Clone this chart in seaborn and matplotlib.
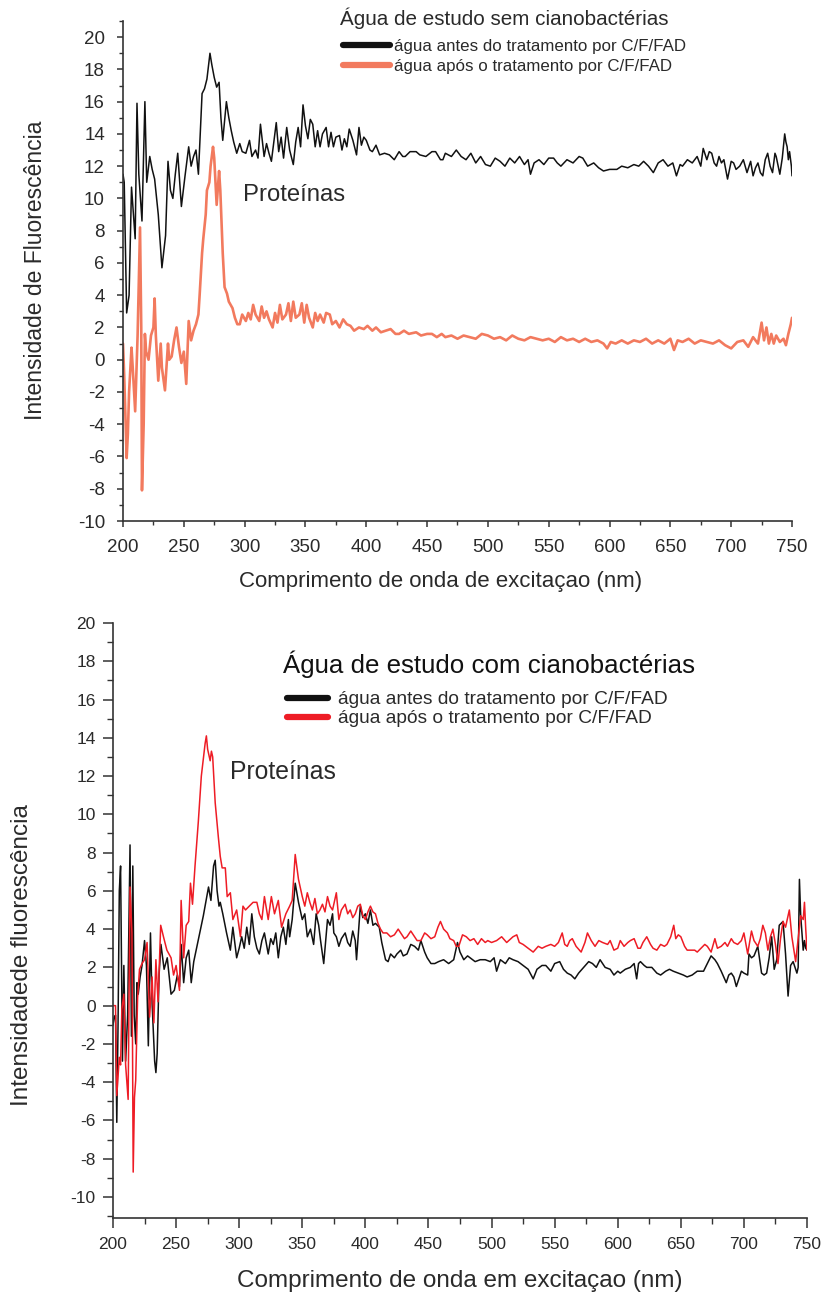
import numpy as np
import pandas as pd
import matplotlib
matplotlib.use("Agg")
import matplotlib.pyplot as plt
from matplotlib.ticker import MultipleLocator
from matplotlib.lines import Line2D
import seaborn as sns

# ---------------- data: top panel (água sem cianobactérias) ----------------
top_before_x = [200, 201, 203, 205, 207, 210, 211.5, 213, 215.6, 218, 219.5, 222, 224, 226, 229, 232, 235, 237, 239, 241,
                243, 245, 248, 251, 254, 256, 258, 260, 262, 265, 267, 269, 271.5, 273, 275, 277, 279, 280.5, 282, 285,
                287, 289, 291, 293.5, 296, 298, 301, 304, 306, 309, 311, 313, 316, 318, 320, 322, 324, 326, 328, 330,
                332, 334.6, 337, 340, 342, 344, 346, 348, 350, 352, 354, 356, 358, 360, 362, 364, 367, 369, 371, 373,
                375, 378, 380, 382, 384, 386, 389, 392, 394, 396, 398, 400, 403, 405, 408, 411, 415, 419, 423, 427,
                430, 432, 436, 441, 444, 449, 454, 457, 461, 463, 465, 470, 474, 478, 482, 486, 490, 494, 498, 502,
                506, 510, 514, 518, 522, 526, 530, 533, 535, 538, 542, 546, 550, 554, 557, 560, 565, 570, 575, 578,
                582, 587, 591, 595, 600, 606, 610, 615, 620, 624, 628, 632, 636, 640, 644, 648, 652, 655, 658, 660,
                664, 668, 672, 675, 677, 680, 682, 684, 686, 688, 690, 692, 694, 697, 700, 702, 704, 707, 710, 713,
                716, 718, 720, 722, 724, 726, 728, 730, 732, 734, 736, 737, 740, 742, 744, 745, 746, 747, 748, 749.5, 750]
top_before_y = [11.5, 11.0, 2.9, 4.0, 10.7, 7.5, 15.9, 11.5, 8.6, 16.0, 11.0, 12.6, 11.8, 11.2, 9.0, 5.7, 7.7, 12.3, 10.5, 10.0,
                11.5, 12.8, 9.5, 11.4, 13.2, 12.0, 12.6, 13.0, 11.5, 16.5, 16.8, 17.4, 19.0, 18.3, 17.5, 16.9, 17.2, 15.0, 13.6, 16.0,
                15.0, 14.2, 13.5, 12.8, 13.4, 12.9, 12.8, 13.6, 12.6, 13.0, 12.5, 14.6, 12.6, 13.4, 12.8, 12.3, 13.5, 14.7, 12.9, 13.8,
                12.5, 14.4, 13.0, 12.1, 13.5, 14.4, 13.2, 15.8, 14.5, 13.7, 14.9, 14.6, 13.2, 14.2, 13.2, 14.0, 14.4, 13.2, 14.1, 13.2,
                13.8, 13.9, 13.0, 13.7, 13.2, 14.3, 13.6, 12.7, 14.4, 13.3, 13.8, 13.6, 13.0, 12.9, 13.3, 12.7, 12.8, 12.7, 12.4, 12.9,
                12.6, 12.6, 12.9, 12.9, 12.7, 12.6, 12.9, 12.9, 12.4, 12.4, 12.8, 12.6, 13.0, 12.6, 12.4, 12.8, 12.2, 12.6, 12.1, 12.0,
                12.5, 12.3, 12.0, 12.5, 12.2, 12.6, 12.1, 12.4, 11.5, 12.2, 12.4, 12.1, 12.5, 12.5, 12.2, 12.0, 12.4, 12.2, 12.6, 12.5,
                12.0, 12.2, 11.9, 11.7, 11.8, 11.8, 12.0, 11.9, 12.1, 12.0, 12.3, 12.0, 11.6, 12.2, 12.4, 12.0, 12.2, 11.4, 12.1, 12.0,
                12.4, 12.2, 12.6, 12.0, 13.1, 12.4, 12.9, 12.8, 12.2, 12.0, 12.6, 12.2, 12.4, 11.2, 12.3, 12.2, 11.8, 12.0, 12.4, 11.6,
                12.3, 11.4, 11.9, 12.2, 11.6, 11.4, 12.4, 12.8, 12.0, 11.6, 12.8, 12.6, 11.5, 12.5, 14.0, 13.5, 13.2, 12.4, 12.9, 12.0, 11.4]

top_after_x = [200, 201, 203, 204, 205, 207, 208, 210, 212, 214, 215, 215.6, 217, 218, 219, 221, 223, 225, 226, 227,
               229, 231, 232, 234.5, 237, 238, 240, 242, 244, 246, 248, 250, 252, 254, 256, 258, 260, 262, 263, 265,
               266, 268, 269, 271, 272, 274, 275, 277, 279, 280, 282, 283.5, 285.5, 287, 290, 292, 294, 296, 298, 301,
               303, 305, 307, 309, 312, 314, 316, 318, 320, 323, 325, 327, 329, 331, 334, 336, 338, 340, 342, 345,
               347, 349, 351, 353, 356, 358, 360, 362, 365, 367, 370, 372, 375, 378, 381, 384, 387, 390, 394, 398,
               401, 405, 408, 412, 416, 420, 424, 427, 431, 435, 441, 445, 450, 454, 458, 462, 465, 470, 475, 480,
               485, 490, 495, 500, 505, 510, 515, 520, 525, 530, 535, 540, 545, 550, 555, 560, 565, 570, 575, 580,
               585, 590, 595, 598, 601, 605, 610, 615, 620, 625, 630, 635, 640, 645, 650, 653, 656, 660, 665, 670,
               675, 680, 685, 690, 695, 700, 705, 710, 714, 718, 722, 725, 727, 729, 731, 733, 735, 737, 740, 743,
               745, 747, 749, 750]
top_after_y = [1.0, -1.0, -6.1, -4.6, -2.0, 0.75, -0.5, -3.2, 1.5, 8.2, 2.0, -8.1, -4.0, 1.6, 0.5, 0.0, 1.5, 2.0, 3.8, 1.5,
               -1.3, 1.0, -0.5, -1.9, 1.0, 0.0, 0.2, 1.2, 2.0, 0.8, -0.2, 0.5, -1.5, 2.4, 1.2, 1.8, 2.2, 2.8, 4.0, 6.6,
               7.5, 9.0, 10.5, 11.0, 12.0, 13.2, 12.5, 9.6, 11.7, 10.5, 6.6, 4.5, 4.1, 3.6, 3.2, 2.6, 2.2, 2.2, 2.8, 2.4,
               2.9, 2.5, 3.4, 2.8, 2.4, 3.3, 2.6, 3.0, 2.5, 2.0, 2.9, 2.3, 3.4, 2.5, 2.8, 3.5, 2.4, 3.6, 2.6, 2.8,
               3.5, 2.3, 3.4, 2.6, 2.0, 2.9, 2.4, 2.8, 2.3, 2.9, 2.8, 2.2, 2.4, 2.0, 2.5, 2.2, 2.1, 1.8, 2.0, 1.9,
               2.1, 1.8, 2.0, 1.7, 1.8, 1.9, 1.6, 1.6, 1.8, 1.6, 1.7, 1.5, 1.6, 1.6, 1.4, 1.6, 1.4, 1.5, 1.3, 1.5,
               1.4, 1.3, 1.6, 1.5, 1.3, 1.4, 1.2, 1.5, 1.3, 1.2, 1.4, 1.3, 1.2, 1.3, 1.1, 1.4, 1.2, 1.3, 1.1, 1.3,
               1.1, 1.2, 1.0, 0.7, 1.1, 1.0, 1.2, 1.0, 1.2, 1.1, 1.3, 1.0, 1.2, 1.0, 1.3, 0.6, 1.2, 1.1, 1.3, 1.0,
               1.2, 1.1, 1.0, 1.2, 0.9, 0.7, 1.1, 1.2, 0.8, 1.4, 1.0, 2.3, 1.2, 2.0, 1.0, 1.6, 1.0, 1.5, 1.1, 1.3,
               0.9, 1.6, 2.2, 2.6]

# ---------------- data: bottom panel (água com cianobactérias) ----------------
bot_before_x = [200, 201, 202, 203, 204, 205, 206, 207.5, 208.6, 210, 211.6, 213.5, 214.6, 215.7, 216.8, 218, 219, 220, 221.5, 223,
                225, 226.5, 228, 229.7, 231, 233, 234, 235, 236.5, 238, 240.5, 243, 246, 248.6, 251, 252.7, 254, 256, 258, 260,
                262, 264, 267.5, 271.6, 275.7, 277.6, 279.7, 281, 282.5, 284, 285, 287, 290, 293, 295, 298, 300, 302, 304, 306,
                308, 310, 312, 314, 316, 318, 320, 323, 325, 327, 329, 331, 333, 335, 337, 339, 340, 342, 344.4, 347,
                350, 352, 354, 356.5, 359, 361, 363, 364.5, 367, 370, 372, 374, 375, 377, 379, 381, 384, 386, 388, 390,
                392, 393, 396, 398, 400, 402, 404, 406, 408, 411, 413, 416, 418, 420, 423, 425, 428, 430, 433, 436,
                439, 442, 444, 447, 449, 452, 455, 458, 462, 466, 470, 473, 475, 478, 481, 483, 487, 491, 495, 499,
                502, 504, 507, 511, 514, 517, 521, 525, 529, 533, 536, 540, 543, 547, 550, 554, 557, 560, 563, 566,
                569, 573, 577, 580, 583, 586, 590, 594, 597, 600, 602, 606, 610, 613, 615, 616.5, 618, 621, 623, 627,
                631, 634, 638, 641, 644, 648, 652, 655, 659, 663, 668, 671, 674, 677, 679, 682, 684, 686, 688, 690,
                692, 694, 696, 698, 700, 703, 704, 706, 708, 711, 714, 716, 718, 720, 722, 724, 726, 728, 731, 733,
                735, 737, 739, 742, 743, 744, 745, 747, 748, 749, 750]
bot_before_y = [-1.0, -0.6, -0.5, -6.1, -1.0, 6.0, 7.3, -2.9, 2.1, -2.9, -0.5, 8.4, -1.6, 7.3, -0.5, -2.0, 1.2, 0.6, 1.5, 2.1,
                3.4, 2.1, -2.1, 3.8, 0.1, -2.9, -3.5, -2.5, 1.6, 3.2, 1.9, 2.5, 0.6, 0.8, 1.6, 1.0, 3.2, 1.2, 2.5, 2.9,
                1.2, 2.3, 3.4, 4.7, 6.2, 5.5, 7.3, 7.6, 6.0, 5.2, 5.4, 4.8, 3.8, 2.9, 4.1, 2.5, 3.0, 3.6, 3.0, 4.1,
                3.2, 4.8, 3.6, 3.0, 2.7, 3.4, 3.8, 2.7, 3.5, 3.2, 3.8, 2.5, 3.6, 4.1, 3.2, 4.5, 3.6, 4.5, 6.4, 5.4,
                4.5, 4.8, 3.6, 4.0, 3.2, 4.8, 4.2, 3.4, 2.2, 4.5, 4.2, 4.8, 3.8, 3.6, 3.1, 3.5, 3.8, 3.3, 3.1, 3.9,
                3.4, 2.4, 5.2, 4.6, 4.8, 4.3, 5.0, 4.2, 4.3, 4.1, 3.3, 2.4, 2.3, 2.7, 2.5, 2.7, 2.9, 2.6, 2.7, 3.2,
                3.1, 2.9, 3.4, 2.8, 2.5, 2.2, 2.2, 2.3, 2.4, 2.2, 2.4, 3.3, 2.8, 2.4, 2.6, 2.5, 2.3, 2.4, 2.4, 2.3,
                2.5, 1.8, 2.4, 2.2, 2.5, 2.4, 2.3, 2.1, 1.9, 1.4, 1.9, 2.1, 2.1, 1.8, 2.2, 2.3, 1.9, 1.7, 1.6, 1.4,
                1.7, 2.0, 2.3, 2.2, 2.0, 2.4, 2.0, 1.9, 1.6, 1.8, 1.7, 1.9, 2.0, 2.2, 1.4, 2.2, 2.3, 2.1, 2.0, 2.0,
                1.7, 1.6, 1.8, 1.9, 1.8, 1.7, 1.6, 1.5, 1.6, 1.8, 1.8, 2.2, 2.6, 2.4, 2.2, 1.8, 1.5, 1.2, 1.6, 1.7,
                1.5, 1.0, 1.4, 1.8, 1.7, 1.6, 2.7, 2.5, 2.6, 3.1, 1.7, 1.6, 1.7, 2.5, 3.6, 1.9, 2.4, 4.2, 4.4, 2.7,
                0.5, 2.1, 2.3, 1.7, 2.0, 6.6, 4.7, 2.9, 3.4, 3.0, 2.9]

bot_after_x = [200, 202, 203, 205, 206, 207, 208.6, 210, 212, 213.5, 215, 216, 217, 218, 219.5, 221, 223, 225, 227, 229,
               231, 232.4, 234, 235.7, 237.8, 240, 242.7, 246, 248, 250, 252.7, 254, 256, 258, 260, 261.4, 263, 265, 267.6, 270,
               273, 274, 275, 277, 278, 279, 281, 283.5, 285, 286.5, 289, 290.5, 293, 295, 298, 301, 303, 305, 308, 311,
               314, 316, 318, 320, 323, 325.5, 328, 331, 333.6, 337, 340, 342, 344.4, 347, 350, 352, 354, 356, 358, 360,
               362, 364, 366, 368, 370, 372, 374, 377, 379, 381, 384, 386, 388, 390, 392, 394, 396, 398, 400, 402,
               404, 406, 408, 410, 412, 414, 417, 420, 423, 426, 428, 431, 433, 436, 439, 441, 444, 447, 449, 452,
               455, 457.5, 459.5, 462, 465, 467, 470, 472, 474, 477, 480, 483, 486, 489, 492, 495, 497, 500, 504, 508,
               512, 517, 520, 522, 525, 529, 533, 537, 540, 543, 547, 550, 553, 556, 558, 560, 562, 564, 567, 571,
               574, 576, 579, 582, 585, 588, 592, 594, 597, 600, 602, 605, 608, 610, 613, 616, 618, 620, 623, 626,
               628, 631, 634, 637, 639, 642, 644.4, 646, 648, 650, 653, 655, 658, 661, 663, 666, 669, 671, 674, 677,
               679, 682, 685, 687, 690, 692, 695, 698, 700, 703, 706, 708, 711, 713, 715, 717, 719, 721, 723, 725,
               727, 729, 731, 733, 736, 738, 741, 743, 745, 747, 748, 749, 750]
bot_after_y = [0.0, 0.0, -4.7, -2.7, -3.1, -0.2, 0.6, -3.1, -4.9, 6.2, 3.8, -8.7, -4.8, -3.9, 0.4, 1.9, 2.2, 2.4, 3.3, -0.6,
               1.5, -0.9, 2.4, 0.2, 4.2, 3.6, 2.9, 2.5, 1.6, 2.1, 0.8, 5.5, 2.5, 4.2, 4.4, 6.4, 5.3, 7.3, 9.6, 12.0,
               13.7, 14.1, 13.4, 12.8, 13.3, 13.0, 10.6, 8.8, 7.8, 7.2, 7.2, 5.7, 5.9, 4.5, 5.0, 3.6, 5.2, 5.0, 5.2, 5.4,
               5.4, 4.8, 4.5, 5.7, 4.5, 5.7, 4.8, 5.5, 4.1, 4.8, 5.2, 5.5, 7.9, 6.6, 5.7, 5.2, 5.9, 5.4, 5.0, 5.6,
               4.8, 5.0, 5.3, 4.9, 5.7, 5.2, 5.0, 5.9, 4.5, 5.0, 5.3, 4.8, 5.0, 4.6, 4.8, 5.2, 5.3, 4.7, 4.5, 4.9,
               5.2, 4.9, 4.8, 4.3, 4.0, 3.8, 3.8, 3.6, 3.7, 4.0, 3.8, 3.5, 3.6, 3.9, 3.6, 3.4, 3.4, 3.8, 3.7, 3.5,
               3.6, 4.1, 4.4, 4.0, 3.8, 3.5, 3.4, 3.1, 3.1, 3.7, 3.6, 3.4, 3.5, 3.2, 3.5, 3.3, 3.4, 3.3, 3.4, 3.6,
               3.3, 3.6, 3.7, 3.3, 3.2, 3.0, 2.8, 3.1, 3.0, 3.1, 3.2, 3.1, 3.3, 3.8, 3.2, 3.1, 3.4, 3.5, 3.1, 2.8,
               3.3, 3.8, 3.4, 3.1, 3.4, 3.3, 3.2, 3.4, 2.9, 3.0, 3.4, 3.1, 3.3, 3.4, 3.5, 3.0, 3.0, 3.3, 3.6, 3.2,
               3.0, 2.9, 3.2, 3.1, 3.2, 3.6, 4.2, 3.5, 3.7, 3.6, 3.1, 2.9, 2.9, 2.9, 2.8, 3.0, 3.2, 3.1, 2.8, 3.5,
               3.0, 3.1, 3.3, 3.1, 3.5, 3.3, 3.2, 3.4, 3.8, 2.7, 3.9, 3.4, 3.1, 3.5, 4.2, 3.8, 2.9, 3.6, 4.0, 3.2,
               2.2, 3.5, 4.4, 4.1, 5.0, 3.6, 2.3, 3.5, 4.7, 4.5, 5.4, 4.0, 2.9]

x_ticks = [200, 250, 300, 350, 400, 450, 500, 550, 600, 650, 700, 750]
y_ticks = [-10, -8, -6, -4, -2, 0, 2, 4, 6, 8, 10, 12, 14, 16, 18, 20]

top_title = "Água de estudo sem cianobactérias"
bot_title = "Água de estudo com cianobactérias"
lab_before = "água antes do tratamento por C/F/FAD"
lab_after = "água após o tratamento por C/F/FAD"

# ---------------- style ----------------
sns.set_theme(style="ticks")
plt.rcParams['font.family'] = ['Liberation Sans', 'DejaVu Sans']
plt.rcParams['axes.unicode_minus'] = False

W, H = 825, 1293
fig = plt.figure(figsize=(W / 100, H / 100), dpi=100)

def fx(px):
    return px / W

def fy(py):
    return 1 - py / H

# top axes: x 123..792 px, y 21..521 px
ax1 = fig.add_axes([fx(123), fy(521), fx(792) - fx(123), fy(21) - fy(521)])
# bottom axes: x 113..807 px, y 623..1218 px
ax2 = fig.add_axes([fx(113), fy(1218), fx(807) - fx(113), fy(623) - fy(1218)])

top_df_b = pd.DataFrame({"x": top_before_x, "y": top_before_y})
top_df_a = pd.DataFrame({"x": top_after_x, "y": top_after_y})
bot_df_b = pd.DataFrame({"x": bot_before_x, "y": bot_before_y})
bot_df_a = pd.DataFrame({"x": bot_after_x, "y": bot_after_y})

top_red = "#F27A5E"
bot_red = "#EE1C25"

sns.lineplot(data=top_df_a, x="x", y="y", ax=ax1, color=top_red, lw=1.9, sort=False, estimator=None)
sns.lineplot(data=top_df_b, x="x", y="y", ax=ax1, color="#111111", lw=1.1, sort=False, estimator=None)

sns.lineplot(data=bot_df_b, x="x", y="y", ax=ax2, color="#111111", lw=1.1, sort=False, estimator=None)
sns.lineplot(data=bot_df_a, x="x", y="y", ax=ax2, color=bot_red, lw=1.1, sort=False, estimator=None)

txt_gray = "#2a2a2a"
# (ax, ylo, yhi, ticklabel size, major len, minor len, y pad, x pad)
specs = [(ax1, -10, 21, 13.5, 4.5, 2.6, 8.5, 8.5), (ax2, -11.1, 20, 12.5, 7, 4, 5.5, 7)]
for ax, ylo, yhi, tfs, majlen, minlen, ypad, xpad in specs:
    ax.set_xlim(200, 750)
    ax.set_ylim(ylo, yhi)
    ax.set_xticks(x_ticks)
    ax.set_yticks(y_ticks)
    ax.xaxis.set_minor_locator(MultipleLocator(25))
    ax.yaxis.set_minor_locator(MultipleLocator(1))
    ax.tick_params(which="major", direction="out", length=majlen, width=1.1, colors="#333333",
                   labelsize=tfs, labelcolor=txt_gray)
    ax.tick_params(which="minor", direction="out", length=minlen, width=1.0, colors="#333333")
    ax.tick_params(axis="y", which="major", pad=ypad)
    ax.tick_params(axis="x", which="major", pad=xpad)
    ax.spines["top"].set_visible(False)
    ax.spines["right"].set_visible(False)
    for s in ["left", "bottom"]:
        ax.spines[s].set_color("#333333")
        ax.spines[s].set_linewidth(1.2)
    ax.set_facecolor("white")

ax1.set_xlabel("Comprimento de onda de excitaçao (nm)", fontsize=16, color=txt_gray)
ax1.set_ylabel("Intensidade de Fluorescência", fontsize=16.5, color=txt_gray)
ax2.set_xlabel("Comprimento de onda em excitaçao (nm)", fontsize=17.5, color=txt_gray)
ax2.set_ylabel("Intensidadede fluorescência", fontsize=17.5, color=txt_gray)

ax1.xaxis.set_label_coords(0.5 + (440 - 457) / 669, (521 - 571) / 500)
ax1.yaxis.set_label_coords((47 - 123) / 669, (521 - 270) / 500)
ax2.xaxis.set_label_coords((460 - 113) / 694, (1218 - 1270) / 595)
ax2.yaxis.set_label_coords((33 - 113) / 694, (1218 - 955) / 595)

ax1.text(298.5, 10.2, "Proteínas", fontsize=17.2, color=txt_gray, ha="left", va="center")
ax2.text(293, 12.2, "Proteínas", fontsize=17.8, color=txt_gray, ha="left", va="center")

# legend titles
fig.text(fx(340), fy(18), top_title, fontsize=14.9, color=txt_gray, ha="left", va="center")
fig.text(fx(283), fy(664), bot_title, fontsize=18.6, color="#111111", ha="left", va="center")

h1 = [Line2D([], [], color="#111111", lw=4.5, solid_capstyle="round"),
      Line2D([], [], color=top_red, lw=4.5, solid_capstyle="round")]
leg1 = ax1.legend(h1, [lab_before, lab_after], loc="upper left",
                  bbox_to_anchor=(fx(343), fy(39)), bbox_transform=fig.transFigure,
                  frameon=False, fontsize=12.2, handlelength=2.8,
                  handletextpad=0.2, labelspacing=0.3, borderpad=0, borderaxespad=0)
for t in leg1.get_texts():
    t.set_color(txt_gray)

h2 = [Line2D([], [], color="#111111", lw=4.5, solid_capstyle="round"),
      Line2D([], [], color=bot_red, lw=4.5, solid_capstyle="round")]
leg2 = ax2.legend(h2, [lab_before, lab_after], loc="upper left",
                  bbox_to_anchor=(fx(287), fy(691)), bbox_transform=fig.transFigure,
                  frameon=False, fontsize=13.8, handlelength=2.15,
                  handletextpad=0.52, labelspacing=0.08, borderpad=0, borderaxespad=0)
for t in leg2.get_texts():
    t.set_color(txt_gray)

fig.savefig("out.png", dpi=100, facecolor="white")
